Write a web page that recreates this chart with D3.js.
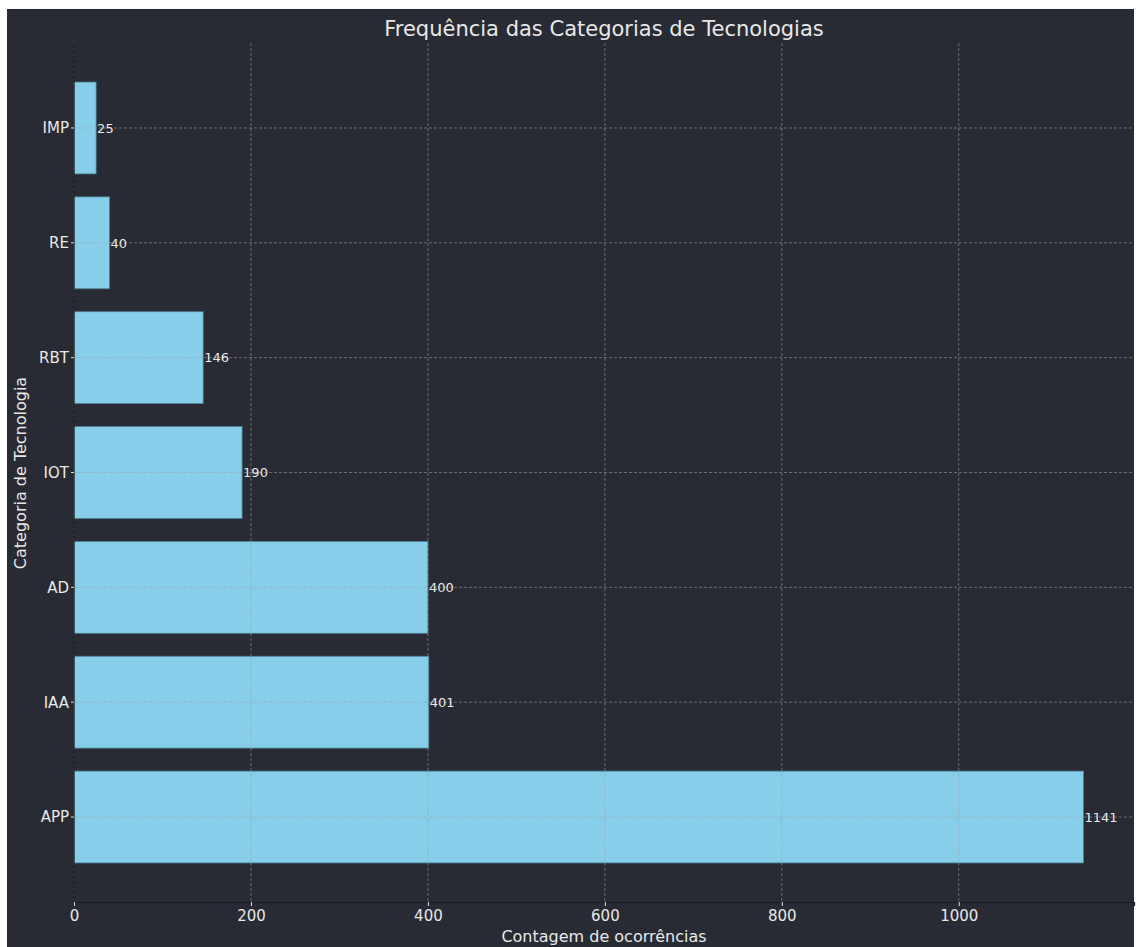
<!DOCTYPE html>
<html>
<head>
<meta charset="utf-8">
<script src="https://cdn.jsdelivr.net/npm/d3@7"></script>
<style>
  html, body { margin: 0; padding: 0; background: #ffffff; }
  svg { display: block; font-family: "DejaVu Sans", sans-serif; }
</style>
</head>
<body>
<div id="chart"></div>
<script>
// data, bottom to top as in the picture
var categorias = ["APP", "IAA", "AD", "IOT", "RBT", "RE", "IMP"];
var contagens = [1141, 401, 400, 190, 146, 40, 25];
var xTicks = [0, 200, 400, 600, 800, 1000];

var width = 1136, height = 947;
var bgColor = "#282b33";
var textColor = "#e8e8e8";

var svg = d3.select("#chart")
  .append("svg")
  .attr("width", width)
  .attr("height", height);

// dark panel (the picture has a thin white edge at top/left)
svg.append("rect")
  .attr("x", 7).attr("y", 9)
  .attr("width", 1127).attr("height", 938)
  .attr("fill", bgColor);

var plotLeft = 74, plotRight = 1134, plotTop = 43, plotBottom = 902;

var x = d3.scaleLinear()
  .domain([0, 1141 * 1.05])
  .range([plotLeft, plotRight]);

// categorical positions like matplotlib: index -0.74 .. 6.74
var yIdx = d3.scaleLinear()
  .domain([-0.74, categorias.length - 1 + 0.74])
  .range([plotBottom, plotTop]);
var barH = yIdx(0) - yIdx(0.8);

// bars
svg.selectAll("rect.bar")
  .data(contagens)
  .enter()
  .append("rect")
  .attr("class", "bar")
  .attr("x", x(0))
  .attr("y", function(d, i) { return yIdx(i) - barH / 2; })
  .attr("width", function(d) { return x(d) - x(0); })
  .attr("height", barH)
  .attr("fill", "#87ceeb")
  .attr("stroke", "#4d7f96")
  .attr("stroke-width", 0.8);

// grid (drawn over bars)
var grid = svg.append("g").attr("stroke", "#a0a0a0").attr("stroke-opacity", 0.7)
  .attr("stroke-width", 0.8).attr("stroke-dasharray", "3,2");
grid.selectAll("line.gx")
  .data(xTicks)
  .enter()
  .append("line")
  .attr("x1", function(d) { return x(d); })
  .attr("x2", function(d) { return x(d); })
  .attr("y1", plotTop).attr("y2", plotBottom);
grid.selectAll("line.gy")
  .data(categorias)
  .enter()
  .append("line")
  .attr("x1", plotLeft).attr("x2", plotRight)
  .attr("y1", function(d, i) { return yIdx(i); })
  .attr("y2", function(d, i) { return yIdx(i); });

// axes
var xAxis = d3.axisBottom(x).tickValues(xTicks).tickFormat(d3.format("d"))
  .tickSize(4).tickPadding(4);
var gx = svg.append("g")
  .attr("transform", "translate(0," + plotBottom + ")")
  .call(xAxis);
gx.select(".domain").attr("stroke", "#1a1a1a").attr("stroke-width", 1.2);
gx.selectAll(".tick line").attr("stroke", "#dddddd");
gx.selectAll(".tick text").attr("fill", textColor).attr("font-size", 15)
  .attr("font-family", "DejaVu Sans, sans-serif");

svg.append("line")
  .attr("x1", plotLeft).attr("x2", plotLeft)
  .attr("y1", plotTop).attr("y2", plotBottom)
  .attr("stroke", "#1a1a1a").attr("stroke-width", 1.2);

// y tick labels
svg.selectAll("text.ylab")
  .data(categorias)
  .enter()
  .append("text")
  .attr("x", plotLeft - 5)
  .attr("y", function(d, i) { return yIdx(i); })
  .attr("dy", "0.36em")
  .attr("text-anchor", "end")
  .attr("fill", textColor)
  .attr("font-size", 15)
  .text(function(d) { return d; });
svg.selectAll("line.ytick")
  .data(categorias)
  .enter()
  .append("line")
  .attr("x1", plotLeft - 3).attr("x2", plotLeft)
  .attr("y1", function(d, i) { return yIdx(i); })
  .attr("y2", function(d, i) { return yIdx(i); })
  .attr("stroke", "#dddddd");

// value labels
svg.selectAll("text.val")
  .data(contagens)
  .enter()
  .append("text")
  .attr("x", function(d) { return x(d) + 1; })
  .attr("y", function(d, i) { return yIdx(i); })
  .attr("dy", "0.36em")
  .attr("fill", textColor)
  .attr("font-size", 13)
  .text(function(d) { return d; });

// title and axis labels
svg.append("text")
  .attr("x", (plotLeft + plotRight) / 2).attr("y", 36)
  .attr("text-anchor", "middle")
  .attr("fill", textColor)
  .attr("font-size", 21)
  .text("Frequência das Categorias de Tecnologias");

svg.append("text")
  .attr("x", (plotLeft + plotRight) / 2).attr("y", 942)
  .attr("text-anchor", "middle")
  .attr("fill", textColor)
  .attr("font-size", 16)
  .text("Contagem de ocorrências");

svg.append("text")
  .attr("transform", "translate(26,473) rotate(-90)")
  .attr("text-anchor", "middle")
  .attr("fill", textColor)
  .attr("font-size", 16)
  .text("Categoria de Tecnologia");
</script>
</body>
</html>
